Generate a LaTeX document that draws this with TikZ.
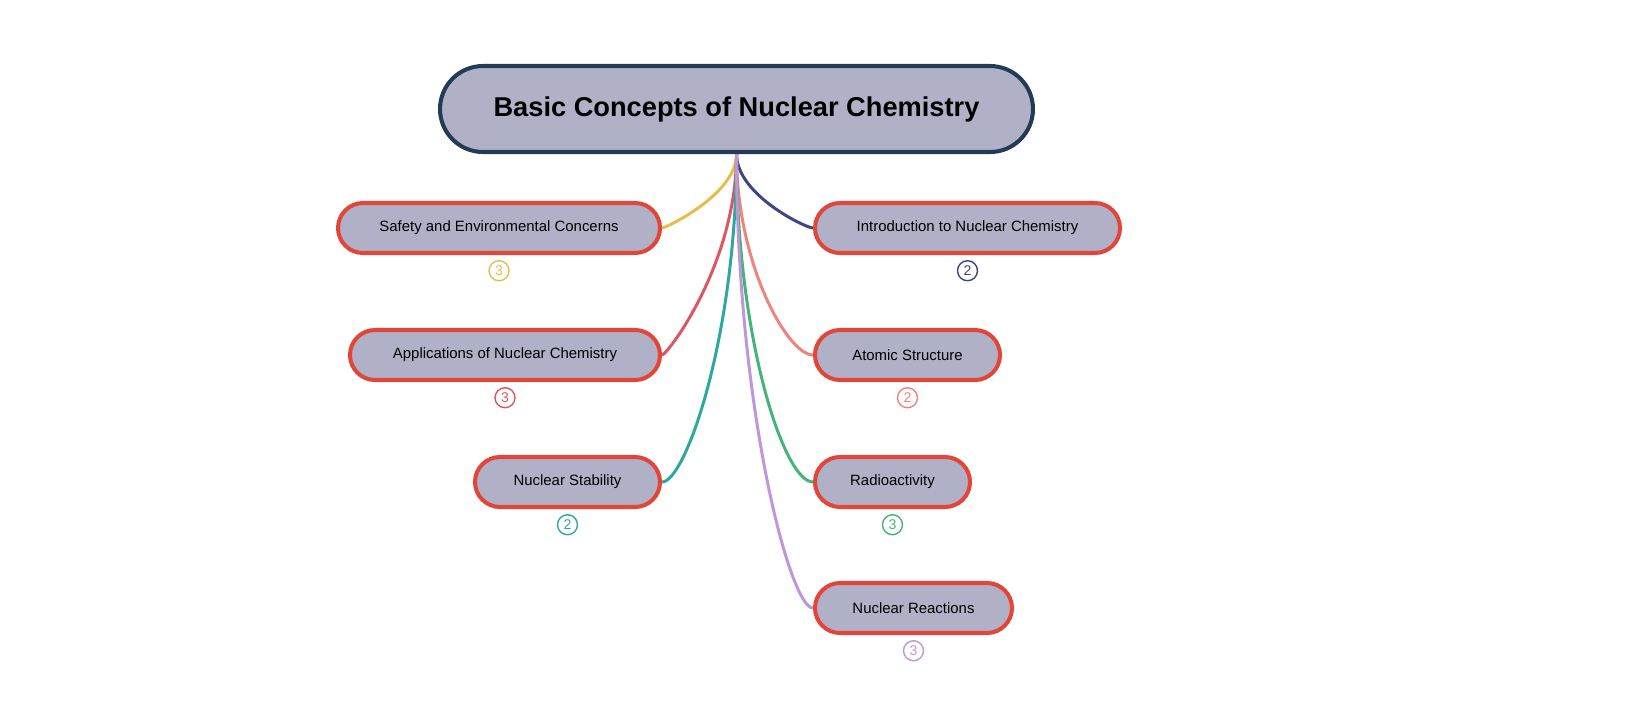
\documentclass[tikz,border=0pt]{standalone}
\usepackage{fontspec}
\setmainfont{Liberation Sans}
\usetikzlibrary{positioning,backgrounds,calc}
\definecolor{nodeFill}{HTML}{B0B1C6}
\definecolor{rootLine}{HTML}{243B55}
\definecolor{childLine}{HTML}{E2453A}
\definecolor{cYellow}{HTML}{E8BC4A}
\definecolor{cNavy}{HTML}{3E4585}
\definecolor{cRose}{HTML}{DC5664}
\definecolor{cSalmon}{HTML}{F0837A}
\definecolor{cTeal}{HTML}{2FA7A0}
\definecolor{cGreen}{HTML}{45B37A}
\definecolor{cLilac}{HTML}{BE96DA}
\tikzset{RootTopic/.style={%
    draw=rootLine,%
    fill=nodeFill,%
    line width=2.3pt,%
    rounded corners=0.86cm,%
    minimum width=11.86cm,%
    minimum height=1.72cm,%
    font=\fontsize{15.5}{18}\selectfont\bfseries,%
}}
\tikzset{SubTopic/.style={%
    draw=childLine,%
    fill=nodeFill,%
    line width=2.3pt,%
    rounded corners=0.5cm,%
    minimum height=1cm,%
    font=\fontsize{8.5}{10}\selectfont,%
}}
\tikzset{Branch/.style={%
    line width=1.7pt,%
}}
\tikzset{Badge/.style={%
    shape=circle,%
    draw=#1,%
    text=#1,%
    line width=0.8pt,%
    minimum size=0.4cm,%
    inner sep=0pt,%
    font=\fontsize{8}{9}\selectfont,%
}}

\begin{document}
\begin{tikzpicture}
    \useasboundingbox (0,0) rectangle (32.82,-14.54);
    \node[RootTopic] (root) at (14.73,-2.18) {Basic Concepts of Nuclear Chemistry};

    \node[SubTopic, minimum width=6.44cm] (safety) at (9.98,-4.56) {Safety and Environmental Concerns};
    \node[SubTopic, minimum width=6.2cm] (apps) at (10.1,-7.1) {Applications of Nuclear Chemistry};
    \node[SubTopic, minimum width=3.7cm] (stab) at (11.35,-9.64) {Nuclear Stability};
    \node[SubTopic, minimum width=6.1cm] (intro) at (19.35,-4.56) {Introduction to Nuclear Chemistry};
    \node[SubTopic, minimum width=3.7cm] (atom) at (18.15,-7.1) {Atomic Structure};
    \node[SubTopic, minimum width=3.1cm] (radio) at (17.85,-9.64) {Radioactivity};
    \node[SubTopic, minimum width=3.94cm] (react) at (18.27,-12.16) {Nuclear Reactions};

    \node[Badge=cYellow, below=0.1cm of safety] (nSafety) {3};
    \node[Badge=cRose, below=0.1cm of apps] (nApps) {3};
    \node[Badge=cTeal, below=0.1cm of stab] (nStab) {2};
    \node[Badge=cNavy, below=0.1cm of intro] (nIntro) {2};
    \node[Badge=cSalmon, below=0.1cm of atom] (nAtom) {2};
    \node[Badge=cGreen, below=0.1cm of radio] (nRadio) {3};
    \node[Badge=cLilac, below=0.1cm of react] (nReact) {3};

    \begin{pgfonlayer}{background}
    \foreach \child/\col in {safety/cYellow, apps/cRose, stab/cTeal,
        intro/cNavy, atom/cSalmon, radio/cGreen, react/cLilac}
        \draw[Branch, \col] (root.south)
            .. controls ($(root.south)!0.55!(root.south |- \child.center)$)
            and ($(root.south |- \child.center)!0.3!(\child.center)$) .. (\child);
    \end{pgfonlayer}
\end{tikzpicture}
\end{document}
